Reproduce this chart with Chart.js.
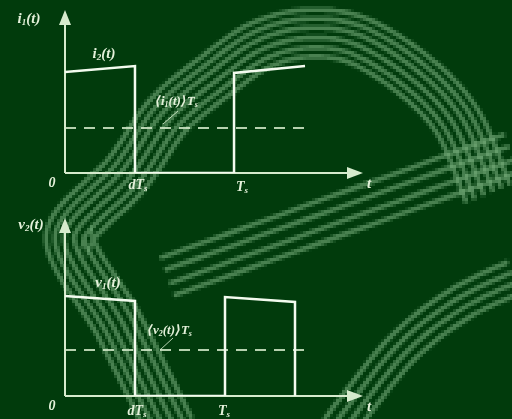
<!DOCTYPE html>
<html>
<head>
<meta charset="utf-8">
<script src="https://cdn.jsdelivr.net/npm/chart.js@4"></script>
<style>
  body { margin: 0; background: #013b0c; }
  #wrap { position: relative; width: 512px; height: 419px; overflow: hidden; background: #013b0c; }
  canvas { position: absolute; left: 0; }
</style>
</head>
<body>
<div id="wrap">
  <canvas id="deco" width="512" height="419" style="top:0"></canvas>
  <canvas id="chart1" width="512" height="209" style="top:0"></canvas>
  <canvas id="chart2" width="512" height="210" style="top:209px"></canvas>
</div>
<script>
// top panel: i1(t) over one and a half switching periods (t in units of Ts)
let currentTime = [0, 0.414, 0.414, 1, 1, 1.42];
let currentValue = [1.01, 1.07, 0, 0, 1.0, 1.07];
let currentAvg = 0.45;
let currentAvgEnd = 1.42;
let currentTicks = [0, 0.414, 1];

// bottom panel: v2(t)
let voltageTime = [0, 0.4375, 0.4375, 1, 1, 1.4375, 1.4375];
let voltageValue = [1.0, 0.95, 0, 0, 0.99, 0.94, 0];
let voltageAvg = 0.46;
let voltageAvgEnd = 1.5;
let voltageTicks = [0, 0.4375, 1];

// "_" marks a one-character subscript
let tickLabels = ['0', 'dT_s', 'T_s'];

const waveColor = '#f3fbef';
const axisColor = '#d6ebcd';
const dashColor = 'rgba(214, 236, 204, 0.85)';
const textColor = '#e4f1da';
const fontFamily = '"Liberation Serif", "DejaVu Serif", serif';

function drawRich(ctx, str, x, y, size, align) {
  var parts = [];
  str.split('_').forEach(function(p, i) {
    if (i == 0) { parts.push([p, false]); return; }
    parts.push([p.charAt(0), true]);
    if (p.length > 1) parts.push([p.slice(1), false]);
  });
  var subSize = Math.round(size * 0.62);
  var width = 0;
  parts.forEach(function(p) {
    ctx.font = 'italic bold ' + (p[1] ? subSize : size) + 'px ' + fontFamily;
    p.push(ctx.measureText(p[0]).width);
    width += p[2];
  });
  var cx = align == 'center' ? x - width / 2 : x;
  ctx.fillStyle = textColor;
  ctx.textBaseline = 'middle';
  ctx.textAlign = 'left';
  parts.forEach(function(p) {
    ctx.font = 'italic bold ' + (p[1] ? subSize : size) + 'px ' + fontFamily;
    ctx.fillText(p[0], cx, p[1] ? y + size * 0.25 : y);
    cx += p[2];
  });
}

// axes with arrowheads, underneath the waveform
const axesPlugin = {
  id: 'arrowAxes',
  beforeDatasetsDraw(chart) {
    var ctx = chart.ctx, area = chart.chartArea;
    var x0 = chart.scales.x.getPixelForValue(0);
    var y0 = chart.scales.y.getPixelForValue(0);
    ctx.save();
    ctx.strokeStyle = axisColor;
    ctx.fillStyle = axisColor;
    ctx.lineWidth = 2;
    ctx.beginPath();
    ctx.moveTo(x0, y0);
    ctx.lineTo(x0, area.top + 12);
    ctx.moveTo(x0, y0);
    ctx.lineTo(area.right - 12, y0);
    ctx.stroke();
    ctx.beginPath();
    ctx.moveTo(x0, area.top);
    ctx.lineTo(x0 - 6, area.top + 15);
    ctx.lineTo(x0 + 6, area.top + 15);
    ctx.closePath();
    ctx.fill();
    ctx.beginPath();
    ctx.moveTo(area.right, y0);
    ctx.lineTo(area.right - 16, y0 - 6);
    ctx.lineTo(area.right - 16, y0 + 6);
    ctx.closePath();
    ctx.fill();
    ctx.restore();
  },
  afterDatasetsDraw(chart, args, opts) {
    var ctx = chart.ctx, area = chart.chartArea;
    var xs = chart.scales.x, y0 = chart.scales.y.getPixelForValue(0);
    ctx.save();
    opts.ticks.forEach(function(v, i) {
      var px = xs.getPixelForValue(v) + opts.tickShift[i];
      drawRich(ctx, tickLabels[i], px, y0 + opts.tickDrop[i], 14, 'center');
    });
    drawRich(ctx, 't', area.right + 6, y0 + opts.tDrop, 15, 'center');
    opts.labels.forEach(function(l) {
      drawRich(ctx, l.text, l.x, l.y, l.size, l.align);
    });
    // pointer from the average label to its dashed line
    ctx.strokeStyle = dashColor;
    ctx.lineWidth = 1;
    ctx.beginPath();
    ctx.moveTo(opts.pointer[0], opts.pointer[1]);
    ctx.lineTo(opts.pointer[2], opts.pointer[3]);
    ctx.stroke();
    ctx.restore();
  }
};

function makeChart(id, times, values, avg, avgEnd, cfg) {
  var points = times.map(function(t, i) { return {x: t, y: values[i]}; });
  return new Chart(document.getElementById(id), {
    type: 'scatter',
    data: {
      datasets: [
        {
          data: points,
          showLine: true,
          borderColor: waveColor,
          borderWidth: 2.5,
          pointRadius: 0,
          tension: 0,
        },
        {
          data: [{x: 0, y: avg}, {x: avgEnd, y: avg}],
          showLine: true,
          borderColor: dashColor,
          borderWidth: 2,
          borderDash: [11, 8],
          pointRadius: 0,
        },
      ],
    },
    options: {
      responsive: false,
      animation: false,
      devicePixelRatio: 1,
      layout: { padding: cfg.padding },
      scales: {
        x: { type: 'linear', display: false, min: 0, max: cfg.xMax },
        y: { type: 'linear', display: false, min: 0, max: cfg.yMax },
      },
      plugins: {
        legend: { display: false },
        tooltip: { enabled: false },
        arrowAxes: cfg.decor,
      },
    },
    plugins: [axesPlugin],
  });
}

// ---- background "e" emblem: striped bands, drawn coarse and blown up ----

// catmull-rom through the guide points
function smoothPath(pts, steps) {
  var out = [];
  for (var i = 0; i < pts.length - 1; i++) {
    var p0 = pts[Math.max(i - 1, 0)], p1 = pts[i], p2 = pts[i + 1], p3 = pts[Math.min(i + 2, pts.length - 1)];
    for (var s = 0; s < steps; s++) {
      var t = s / steps, t2 = t * t, t3 = t2 * t;
      out.push([
        0.5 * (2 * p1[0] + (-p0[0] + p2[0]) * t + (2 * p0[0] - 5 * p1[0] + 4 * p2[0] - p3[0]) * t2 + (-p0[0] + 3 * p1[0] - 3 * p2[0] + p3[0]) * t3),
        0.5 * (2 * p1[1] + (-p0[1] + p2[1]) * t + (2 * p0[1] - 5 * p1[1] + 4 * p2[1] - p3[1]) * t2 + (-p0[1] + 3 * p1[1] - 3 * p2[1] + p3[1]) * t3),
      ]);
    }
  }
  out.push(pts[pts.length - 1]);
  return out;
}

function strokeOffsets(ctx, pts, offsets) {
  var line = smoothPath(pts, 16);
  offsets.forEach(function(d) {
    ctx.beginPath();
    for (var j = 0; j < line.length; j++) {
      var a = line[Math.max(j - 1, 0)], b = line[Math.min(j + 1, line.length - 1)];
      var tx = b[0] - a[0], ty = b[1] - a[1], len = Math.hypot(tx, ty) || 1;
      var x = line[j][0] - ty / len * d, y = line[j][1] + tx / len * d;
      if (j == 0) ctx.moveTo(x, y); else ctx.lineTo(x, y);
    }
    ctx.stroke();
  });
}

function drawEmblem() {
  var f = 3;
  var small = document.createElement('canvas');
  small.width = Math.ceil(512 / f);
  small.height = Math.ceil(419 / f);
  var s = small.getContext('2d');
  s.scale(1 / f, 1 / f);
  s.strokeStyle = 'rgba(122, 176, 126, 0.6)';
  s.lineWidth = 5;
  // outer bowl of the e
  strokeOffsets(s, [[150, 440], [100, 340], [46, 236], [110, 157], [150, 100], [200, 58], [250, 24], [305, 10], [365, 18], [430, 58], [478, 110], [510, 185]],
    [0, 9, 18, 28, 38, 47]);
  // cross stroke
  strokeOffsets(s, [[160, 258], [505, 134]], [0, 13, 27, 40]);
  // lower tail
  strokeOffsets(s, [[522, 292], [468, 318], [412, 362], [350, 440]], [0, 11, 22, 33]);
  var ctx = document.getElementById('deco').getContext('2d');
  ctx.imageSmoothingEnabled = false;
  ctx.drawImage(small, 0, 0, small.width * f, small.height * f);
}

drawEmblem();

makeChart('chart1', currentTime, currentValue, currentAvg, currentAvgEnd, {
  padding: { left: 65, top: 10, right: 149, bottom: 36 },
  xMax: 1.763,
  yMax: 1.63,
  decor: {
    ticks: currentTicks,
    tickShift: [-13, 3, 8],
    tickDrop: [10, 12, 14],
    tDrop: 11,
    labels: [
      { text: 'i_1(t)', x: 29, y: 19, size: 15, align: 'center' },
      { text: 'i_2(t)', x: 104, y: 54, size: 15, align: 'center' },
      { text: '⟨i_1(t)⟩T_s', x: 155, y: 102, size: 13, align: 'left' },
    ],
    pointer: [163, 124, 178, 111],
  },
});

makeChart('chart2', voltageTime, voltageValue, voltageAvg, voltageAvgEnd, {
  padding: { left: 65, top: 9, right: 149, bottom: 23 },
  xMax: 1.8625,
  yMax: 1.78,
  decor: {
    ticks: voltageTicks,
    tickShift: [-13, 2, -1],
    tickDrop: [10, 15, 15],
    tDrop: 11,
    labels: [
      { text: 'v_2(t)', x: 31, y: 16, size: 15, align: 'center' },
      { text: 'v_1(t)', x: 108, y: 74, size: 15, align: 'center' },
      { text: '⟨v_2(t)⟩T_s', x: 147, y: 122, size: 13, align: 'left' },
    ],
    pointer: [160, 141, 173, 129],
  },
});
</script>
</body>
</html>
